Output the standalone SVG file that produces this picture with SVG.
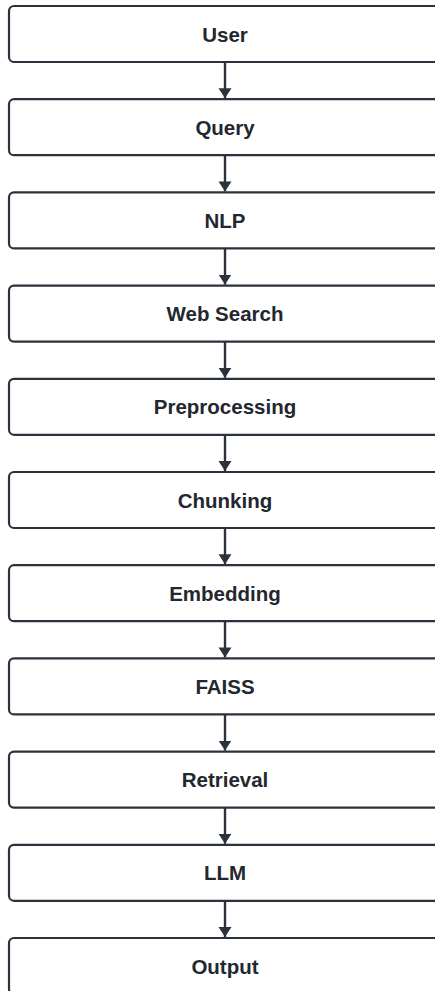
<svg xmlns="http://www.w3.org/2000/svg" width="435" height="991" viewBox="0 0 435 991">
<defs>
<style>
.box{fill:#ffffff;stroke:#2c323c;stroke-width:2.2}
.lbl{font-family:"Liberation Sans",Arial,sans-serif;font-weight:bold;font-size:20.5px;fill:#23272e;text-anchor:middle;dominant-baseline:central}
.edge{stroke:#2c323c;stroke-width:2.4;fill:none;marker-end:url(#ah)}
</style>
<marker id="ah" markerUnits="userSpaceOnUse" markerWidth="10" markerHeight="14" refX="10" refY="7" orient="auto">
<path d="M0,0.5 L10,7 L0,13.5 Z" fill="#2c323c"/>
</marker>
</defs>
<rect width="435" height="991" fill="#ffffff"/>
<g id="connectors">
<line class="edge" x1="225" y1="62" x2="225" y2="98.2"/>
<line class="edge" x1="225" y1="155.2" x2="225" y2="191.4"/>
<line class="edge" x1="225" y1="248.4" x2="225" y2="284.6"/>
<line class="edge" x1="225" y1="341.6" x2="225" y2="377.8"/>
<line class="edge" x1="225" y1="434.8" x2="225" y2="471"/>
<line class="edge" x1="225" y1="528" x2="225" y2="564.2"/>
<line class="edge" x1="225" y1="621.2" x2="225" y2="657.4"/>
<line class="edge" x1="225" y1="714.4" x2="225" y2="750.6"/>
<line class="edge" x1="225" y1="807.6" x2="225" y2="843.8"/>
<line class="edge" x1="225" y1="900.8" x2="225" y2="937"/>
</g>
<g id="n-user"><rect class="box" x="9" y="6" width="434" height="56" rx="5"/><text class="lbl" x="225" y="34">User</text></g>
<g id="n-query"><rect class="box" x="9" y="99.2" width="434" height="56" rx="5"/><text class="lbl" x="225" y="127.2">Query</text></g>
<g id="n-nlp"><rect class="box" x="9" y="192.4" width="434" height="56" rx="5"/><text class="lbl" x="225" y="220.4">NLP</text></g>
<g id="n-websearch"><rect class="box" x="9" y="285.6" width="434" height="56" rx="5"/><text class="lbl" x="225" y="313.6">Web Search</text></g>
<g id="n-preprocessing"><rect class="box" x="9" y="378.8" width="434" height="56" rx="5"/><text class="lbl" x="225" y="406.8">Preprocessing</text></g>
<g id="n-chunking"><rect class="box" x="9" y="472" width="434" height="56" rx="5"/><text class="lbl" x="225" y="500">Chunking</text></g>
<g id="n-embedding"><rect class="box" x="9" y="565.2" width="434" height="56" rx="5"/><text class="lbl" x="225" y="593.2">Embedding</text></g>
<g id="n-faiss"><rect class="box" x="9" y="658.4" width="434" height="56" rx="5"/><text class="lbl" x="225" y="686.4">FAISS</text></g>
<g id="n-retrieval"><rect class="box" x="9" y="751.6" width="434" height="56" rx="5"/><text class="lbl" x="225" y="779.6">Retrieval</text></g>
<g id="n-llm"><rect class="box" x="9" y="844.8" width="434" height="56" rx="5"/><text class="lbl" x="225" y="872.8">LLM</text></g>
<g id="n-output"><rect class="box" x="9" y="938" width="434" height="56" rx="5"/><text class="lbl" x="225" y="966">Output</text></g>
</svg>
